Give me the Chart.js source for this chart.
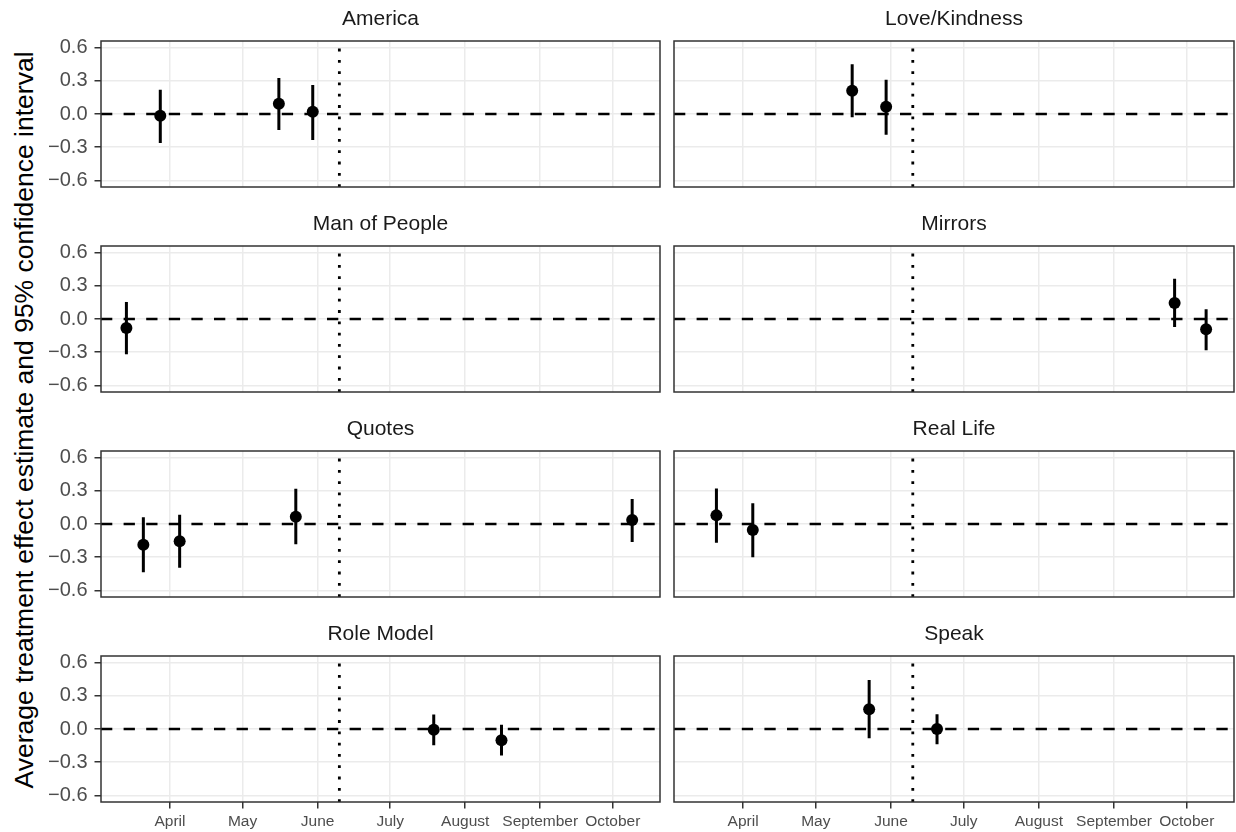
<!DOCTYPE html>
<html>
<head>
<meta charset="utf-8">
<script src="https://cdn.jsdelivr.net/npm/chart.js@4.4.1/dist/chart.umd.min.js"></script>
<style>
  html, body { margin: 0; padding: 0; background: #ffffff; }
  body { width: 1236px; height: 832px; position: relative; overflow: hidden;
         font-family: 'Liberation Sans', Arial, sans-serif; }
  canvas { position: absolute; }
  #ytitle { position: absolute; width: 900px; height: 30px; line-height: 30px;
            left: -425.9px; top: 405.4px; text-align: center; white-space: nowrap;
            font-size: 26.5px; color: #000000; transform: rotate(-90deg);
            transform-origin: 50% 50%; }
</style>
</head>
<body>
<div id="ytitle">Average treatment effect estimate and 95% confidence interval</div>
<script>
// ---------------- data ----------------
const facetNames = ['America', 'Love/Kindness', 'Man of People', 'Mirrors',
                    'Quotes', 'Real Life', 'Role Model', 'Speak'];

const obsFacet = ['America', 'America', 'America',
                  'Love/Kindness', 'Love/Kindness',
                  'Man of People',
                  'Mirrors', 'Mirrors',
                  'Quotes', 'Quotes', 'Quotes', 'Quotes',
                  'Real Life', 'Real Life',
                  'Role Model', 'Role Model',
                  'Speak', 'Speak'];
const obsDate = ['2017-03-28', '2017-05-16', '2017-05-30',
                 '2017-05-16', '2017-05-30',
                 '2017-03-14',
                 '2017-09-26', '2017-10-09',
                 '2017-03-21', '2017-04-05', '2017-05-23', '2017-10-09',
                 '2017-03-21', '2017-04-05',
                 '2017-07-19', '2017-08-16',
                 '2017-05-23', '2017-06-20'];
const obsEstimate = [-0.015, 0.093, 0.021,
                     0.210, 0.066,
                     -0.081,
                     0.145, -0.093,
                     -0.187, -0.156, 0.066, 0.036,
                     0.078, -0.054,
                     -0.006, -0.102,
                     0.178, 0.000];
const obsLower = [-0.262, -0.144, -0.235,
                  -0.030, -0.187,
                  -0.319,
                  -0.072, -0.283,
                  -0.436, -0.395, -0.183, -0.163,
                  -0.169, -0.301,
                  -0.147, -0.240,
                  -0.084, -0.138];
const obsUpper = [0.220, 0.325, 0.262,
                  0.450, 0.310,
                  0.154,
                  0.365, 0.088,
                  0.061, 0.084, 0.319, 0.226,
                  0.322, 0.187,
                  0.132, 0.039,
                  0.443, 0.133];

const monthTickDates = ['2017-04-01', '2017-05-01', '2017-06-01', '2017-07-01',
                        '2017-08-01', '2017-09-01', '2017-10-01'];
const monthTickLabels = ['April', 'May', 'June', 'July', 'August', 'September', 'October'];
const yTicks = [-0.6, -0.3, 0, 0.3, 0.6];
const yTickLabels = ['\u22120.6', '\u22120.3', '0.0', '0.3', '0.6'];
const cutoffDate = '2017-06-10';
const refValue = 0;
const xLimitDays = [61.5, 292.5];     // axis range, day of year
const yLimits = [-0.66, 0.66];

// ---------------- layout ----------------
const FONT = "'Liberation Sans', Arial, sans-serif";
const colPanelLeft = [101, 674];
const colPanelWidth = [559, 560];
const rowPanelTop = [41, 246, 451, 656];
const panelHeight = 146;

function dayOf(s) {
  const [y, m, d] = s.split('-').map(Number);
  return (Date.UTC(y, m - 1, d) - Date.UTC(y, 0, 1)) / 86400000;
}
const monthTickDays = monthTickDates.map(dayOf);

const framePlugin = {
  id: 'frame',
  afterDatasetsDraw(chart) {
    const { ctx, chartArea: a } = chart;
    ctx.save();
    ctx.strokeStyle = '#333333';
    ctx.lineWidth = 1.5;
    ctx.strokeRect(a.left, a.top, a.right - a.left, a.bottom - a.top);
    ctx.restore();
  }
};

Chart.defaults.font.family = FONT;

facetNames.forEach((name, i) => {
  const row = Math.floor(i / 2), col = i % 2;
  const isLeft = col === 0, isBottom = row === 3;
  const yAxisW = isLeft ? 70 : 0;
  const padL = isLeft ? 0 : 2, padR = 2, padB = isBottom ? 0 : 24;
  const xAxisH = isBottom ? 30 : 0;
  const titleH = 40;
  const cw = padL + yAxisW + colPanelWidth[col] + padR;
  const ch = titleH + panelHeight + xAxisH + padB;

  const canvas = document.createElement('canvas');
  canvas.width = cw; canvas.height = ch;
  canvas.style.width = cw + 'px'; canvas.style.height = ch + 'px';
  canvas.style.left = (colPanelLeft[col] - yAxisW - padL) + 'px';
  canvas.style.top = (rowPanelTop[row] - titleH) + 'px';
  document.body.appendChild(canvas);

  const points = [], ci = [];
  obsFacet.forEach((f, k) => {
    if (f !== name) return;
    const d = dayOf(obsDate[k]);
    points.push({ x: d, y: obsEstimate[k] });
    ci.push({ x: d, y: obsLower[k] }, { x: d, y: obsUpper[k] }, { x: d, y: null });
  });
  const cut = dayOf(cutoffDate);

  const chart = new Chart(canvas, {
    type: 'scatter',
    data: {
      datasets: [
        { type: 'line', data: [{ x: xLimitDays[0], y: refValue }, { x: xLimitDays[1], y: refValue }],
          borderColor: '#000000', borderWidth: 2.5, borderDash: [11.3, 11.3],
          pointRadius: 0, order: 4 },
        { type: 'line', data: [{ x: cut, y: yLimits[0] }, { x: cut, y: yLimits[1] }],
          borderColor: '#000000', borderWidth: 2.8, borderDash: [2.8, 8.5],
          pointRadius: 0, order: 3 },
        { type: 'line', data: ci, spanGaps: false,
          borderColor: '#000000', borderWidth: 3, pointRadius: 0, order: 2 },
        { type: 'scatter', data: points, showLine: false,
          pointRadius: 6, pointHoverRadius: 6, backgroundColor: '#000000',
          borderWidth: 0, order: 1 }
      ]
    },
    options: {
      responsive: false,
      animation: false,
      events: [],
      layout: { autoPadding: false, padding: { left: padL, right: padR, top: 0, bottom: padB } },
      plugins: {
        legend: { display: false },
        tooltip: { enabled: false },
        title: {
          display: true, text: name, fullSize: false, color: '#1a1a1a',
          font: { family: FONT, size: 21, weight: 'normal', lineHeight: 1.2 },
          padding: { top: 5.4, bottom: 9.4 }
        }
      },
      scales: {
        x: {
          type: 'linear', min: xLimitDays[0], max: xLimitDays[1], offset: false,
          afterBuildTicks: s => { s.ticks = monthTickDays.map(v => ({ value: v })); },
          afterFit: s => { s.height = xAxisH; },
          border: { display: false },
          grid: { color: '#ebebeb', lineWidth: 1.5, drawTicks: isBottom,
                  tickLength: 6.5, tickColor: '#333333', tickWidth: 1.5 },
          ticks: { display: isBottom, autoSkip: false, maxRotation: 0, minRotation: 0,
                   padding: 4, color: '#4d4d4d', font: { family: FONT, size: 15.5 },
                   callback: v => monthTickLabels[monthTickDays.indexOf(v)] }
        },
        y: {
          type: 'linear', min: yLimits[0], max: yLimits[1],
          afterBuildTicks: s => { s.ticks = yTicks.map(v => ({ value: v })); },
          afterFit: s => { s.width = yAxisW; },
          border: { display: false },
          grid: { color: '#ebebeb', lineWidth: 1.5, drawTicks: isLeft,
                  tickLength: 6.5, tickColor: '#333333', tickWidth: 1.5 },
          ticks: { display: isLeft, padding: 7, color: '#4d4d4d',
                   font: { family: FONT, size: 20 },
                   callback: v => yTickLabels[yTicks.indexOf(v)] }
        }
      }
    },
    plugins: [framePlugin]
  });

  const a = chart.chartArea;
  canvas.style.left = (colPanelLeft[col] - a.left) + 'px';
  canvas.style.top = (rowPanelTop[row] - a.top) + 'px';
});
</script>
</body>
</html>
